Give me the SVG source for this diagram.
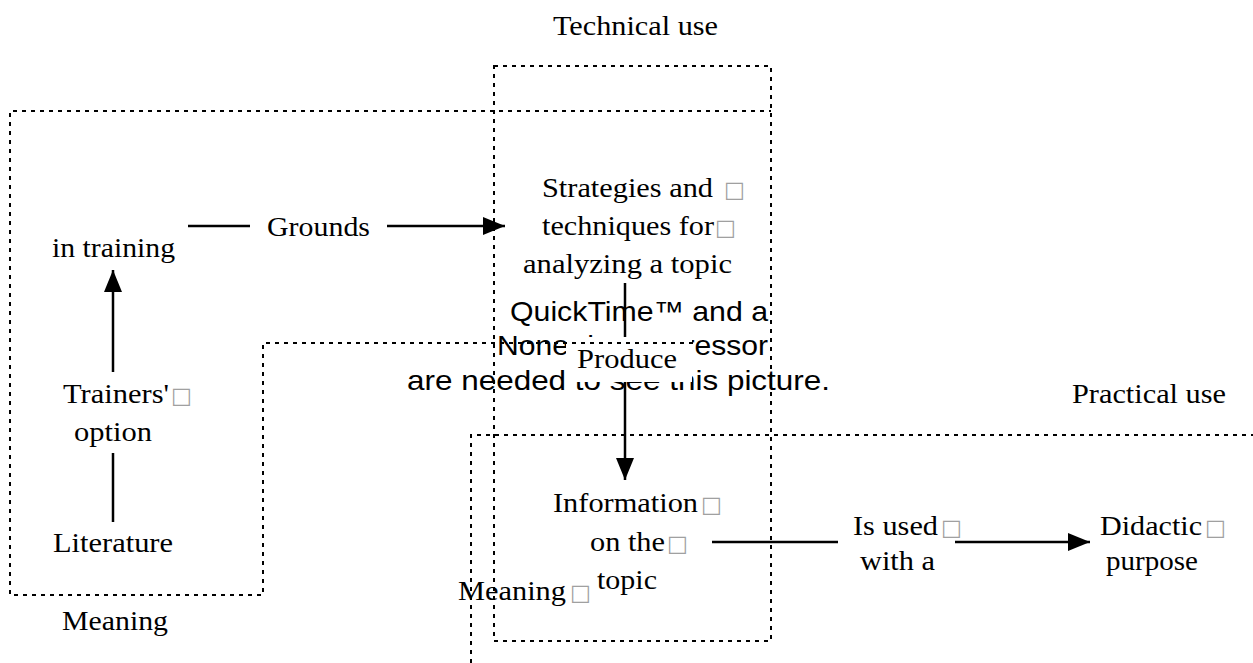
<svg xmlns="http://www.w3.org/2000/svg" width="1253" height="663" viewBox="0 0 1253 663">
<style>
.t{font-family:"Liberation Serif","Times New Roman",serif;font-size:27.5px;fill:#000}
.q{font-family:"Liberation Sans",Arial,sans-serif;font-size:28px;fill:#000}
.bx{font-family:"DejaVu Sans",sans-serif;font-size:22px;fill:#a0a0a0}
.dot{fill:none;stroke:#000;stroke-width:2;stroke-dasharray:4 5}
.ln{fill:none;stroke:#000;stroke-width:2.5}
.arr{marker-end:url(#ah)}
</style>
<defs>
<marker id="ah" markerUnits="userSpaceOnUse" markerWidth="24" markerHeight="20" refX="22" refY="9" orient="auto">
<path d="M0,0 L22,9 L0,18 z" fill="#000"/>
</marker>
</defs>
<rect width="1253" height="663" fill="#fff"/>
<g id="quicktime-placeholder">
<text class="q" x="510" y="321" textLength="258" lengthAdjust="spacingAndGlyphs">QuickTime™ and a</text>
<text class="q" x="497" y="355" textLength="271" lengthAdjust="spacingAndGlyphs">None decompressor</text>
<text class="q" x="407" y="390" textLength="423" lengthAdjust="spacingAndGlyphs">are needed to see this picture.</text>
</g>
<g id="connectors">
<line class="ln" x1="113" y1="522" x2="113" y2="453"/>
<line class="ln arr" x1="113" y1="372" x2="113" y2="270"/>
<line class="ln" x1="188" y1="226" x2="250" y2="226"/>
<text class="t" x="267" y="236" textLength="103" lengthAdjust="spacingAndGlyphs">Grounds</text>
<line class="ln arr" x1="387" y1="226" x2="505" y2="226"/>
<line class="ln arr" x1="625" y1="283" x2="625" y2="480"/>
<rect x="566" y="337" width="126" height="45" fill="#fff"/>
<text class="t" x="577" y="368" textLength="100" lengthAdjust="spacingAndGlyphs">Produce</text>
<line class="ln" x1="712" y1="542" x2="838" y2="542"/>
<text class="t" x="853" y="535" textLength="85" lengthAdjust="spacingAndGlyphs">Is used</text>
<text class="bx" x="941" y="535">□</text>
<text class="t" x="860" y="570" textLength="75" lengthAdjust="spacingAndGlyphs">with a</text>
<line class="ln arr" x1="955" y1="542" x2="1090" y2="542"/>
</g>
<g id="regions">
<polyline class="dot" points="693,343 263,343 263,595 10,595 10,111 771,111"/>
<rect class="dot" x="494" y="66" width="277" height="575"/>
<polyline class="dot" points="471,663 471,435 1253,435"/>
<text class="t" x="553" y="35" textLength="165" lengthAdjust="spacingAndGlyphs">Technical use</text>
<text class="t" x="62" y="630" textLength="106" lengthAdjust="spacingAndGlyphs">Meaning</text>
<text class="t" x="1072" y="403" textLength="154" lengthAdjust="spacingAndGlyphs">Practical use</text>
<text class="t" x="458" y="600" textLength="108" lengthAdjust="spacingAndGlyphs">Meaning</text>
<text class="bx" x="570" y="600">□</text>
</g>
<g id="node-in-training">
<text class="t" x="52" y="257" textLength="123" lengthAdjust="spacingAndGlyphs">in training</text>
</g>
<g id="node-trainers-option">
<text class="t" x="63" y="403" textLength="106" lengthAdjust="spacingAndGlyphs">Trainers'</text>
<text class="bx" x="171" y="403">□</text>
<text class="t" x="74" y="441" textLength="78" lengthAdjust="spacingAndGlyphs">option</text>
</g>
<g id="node-literature">
<text class="t" x="53" y="552" textLength="120" lengthAdjust="spacingAndGlyphs">Literature</text>
</g>
<g id="node-strategies">
<text class="t" x="542" y="197" textLength="171" lengthAdjust="spacingAndGlyphs">Strategies and</text>
<text class="bx" x="724" y="197">□</text>
<text class="t" x="542" y="235" textLength="172" lengthAdjust="spacingAndGlyphs">techniques for</text>
<text class="bx" x="715" y="235">□</text>
<text class="t" x="523" y="273" textLength="209" lengthAdjust="spacingAndGlyphs">analyzing a topic</text>
</g>
<g id="node-information">
<text class="t" x="553" y="512" textLength="145" lengthAdjust="spacingAndGlyphs">Information</text>
<text class="bx" x="701" y="512">□</text>
<text class="t" x="590" y="551" textLength="75" lengthAdjust="spacingAndGlyphs">on the</text>
<text class="bx" x="667" y="551">□</text>
<text class="t" x="597" y="589" textLength="60" lengthAdjust="spacingAndGlyphs">topic</text>
</g>
<g id="node-didactic">
<text class="t" x="1100" y="535" textLength="102" lengthAdjust="spacingAndGlyphs">Didactic</text>
<text class="bx" x="1205" y="535">□</text>
<text class="t" x="1106" y="570" textLength="92" lengthAdjust="spacingAndGlyphs">purpose</text>
</g>
</svg>
